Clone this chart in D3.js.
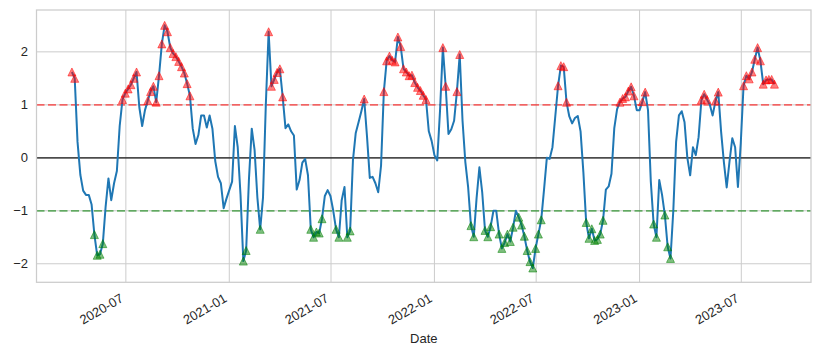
<!DOCTYPE html>
<html><head><meta charset="utf-8">
<script src="https://cdn.jsdelivr.net/npm/d3@7"></script>
<style>
body{margin:0;background:#fff}
svg{display:block}
text{font-family:"Liberation Sans",Arial,"DejaVu Sans",sans-serif;fill:#262626}
</style>
</head><body>
<svg id="chart" width="820" height="355"></svg>
<script>
// ---- data ----
const startDate = "2020-03-27";
const stepDays = 5;
const values = [
 1.62, 1.5, 0.3, -0.32, -0.62, -0.70, -0.70, -0.88, -1.45, -1.84,
 -1.82, -1.62, -0.92, -0.39, -0.80, -0.48, -0.25, 0.6, 1.1, 1.22,
 1.30, 1.38, 1.5, 1.62, 0.95, 0.6, 0.9, 1.08, 1.25, 1.35,
 1.05, 1.55, 2.15, 2.5, 2.38, 2.08, 1.97, 1.91, 1.82, 1.72,
 1.6, 1.4, 1.17, 0.55, 0.26, 0.43, 0.8, 0.8, 0.57, 0.8,
 0.55, -0.06, -0.36, -0.48, -0.95, -0.77, -0.61, -0.45, 0.6, 0.2,
 -0.7, -1.95, -1.75, -0.4, 0.55, 0.15, -0.75, -1.35, -0.75, 1.0,
 2.38, 1.35, 1.48, 1.61, 1.68, 1.15, 0.56, 0.63, 0.5, 0.42,
 -0.6, -0.42, -0.09, -0.02, -0.33, -1.35, -1.5, -1.4, -1.42, -1.15,
 -0.72, -0.61, -0.72, -1.0, -1.35, -1.5, -0.8, -0.55, -1.5, -1.38,
 -0.05, 0.47, 0.67, 0.88, 1.11, 0.41, -0.38, -0.36, -0.48, -0.65,
 -0.15, 1.25, 1.83, 1.92, 1.84, 1.81, 2.28, 2.1, 1.68, 1.62,
 1.55, 1.56, 1.42, 1.33, 1.27, 1.18, 1.1, 0.5, 0.32, 0.05,
 -0.05, 0.9, 2.08, 1.35, 0.45, 0.54, 0.7, 1.25, 1.95, 0.7,
 -0.08, -0.56, -1.28, -1.49, -0.76, -0.18, -0.65, -1.37, -1.49, -1.3,
 -1.0, -1.0, -1.44, -1.71, -1.6, -1.44, -1.58, -1.31, -1.0, -1.12,
 -1.27, -1.48, -1.75, -1.96, -2.08, -1.71, -1.44, -1.17, -0.6, 0.0,
 -0.02, 0.2, 0.78, 1.36, 1.74, 1.72, 1.05, 0.78, 0.65, 0.75,
 0.79, 0.5, -0.27, -1.22, -1.52, -1.34, -1.56, -1.54, -1.44, -1.18,
 -0.6, -0.54, -0.3, 0.56, 0.92, 1.05, 1.12, 1.15, 1.26, 1.34,
 1.17, 0.9, 0.9, 1.06, 1.24, 0.9, -0.45, -1.25, -1.5, -0.42,
 -0.7, -1.08, -1.68, -1.9, -1.0, 0.3, 0.8, 0.88, 0.67, 0.0,
 -0.33, 0.2, 0.05, 0.39, 1.09, 1.2, 1.1, 1.0, 0.8, 1.07,
 1.24, 0.5, -0.08, -0.56, -0.07, 0.37, 0.2, -0.55, 0.27, 1.36,
 1.55, 1.49, 1.62, 1.86, 2.08, 1.83, 1.39, 1.47, 1.48, 1.48,
 1.39
];
const xTickLabels = ["2020-07","2021-01","2021-07","2022-01","2022-07","2023-01","2023-07"];
const yTickValues = [-2, -1, 0, 1, 2];
const upperThreshold = 1;
const lowerThreshold = -1;
const xAxisLabel = "Date";
const xDomain = ["2020-01-24", "2023-11-02"];
const yDomain = [-2.35, 2.79];

// ---- build ----
const parse = d3.utcParse("%Y-%m-%d");
const t0 = parse(startDate);
const data = values.map((v, i) => ({date: d3.utcDay.offset(t0, i * stepDays), value: v}));

const L = 36.5, R = 811, T = 10, B = 282.3;
const x = d3.scaleUtc().domain(xDomain.map(parse)).range([L, R]);
const y = d3.scaleLinear().domain(yDomain).range([B, T]);
const svg = d3.select("#chart");

// grid
const xTicks = xTickLabels.map(s => d3.utcParse("%Y-%m")(s));
svg.append("g").selectAll("line").data(xTicks).join("line")
  .attr("x1", d => x(d)).attr("x2", d => x(d)).attr("y1", T).attr("y2", B)
  .attr("stroke", "#cccccc").attr("stroke-width", 1);
svg.append("g").selectAll("line").data(yTickValues).join("line")
  .attr("x1", L).attr("x2", R).attr("y1", d => y(d)).attr("y2", d => y(d))
  .attr("stroke", "#cccccc").attr("stroke-width", 1);

// reference lines
svg.append("line").attr("x1", L).attr("x2", R).attr("y1", y(0)).attr("y2", y(0))
  .attr("stroke", "#000").attr("stroke-opacity", 0.65).attr("stroke-width", 1.8);
svg.append("line").attr("x1", L).attr("x2", R).attr("y1", y(upperThreshold)).attr("y2", y(upperThreshold))
  .attr("stroke", "red").attr("stroke-opacity", 0.55).attr("stroke-width", 1.8).attr("stroke-dasharray", "8,3.5");
svg.append("line").attr("x1", L).attr("x2", R).attr("y1", y(lowerThreshold)).attr("y2", y(lowerThreshold))
  .attr("stroke", "green").attr("stroke-opacity", 0.55).attr("stroke-width", 1.8).attr("stroke-dasharray", "8,3.5");

// series line
svg.append("path").datum(data)
  .attr("fill", "none").attr("stroke", "#1f77b4").attr("stroke-width", 2)
  .attr("stroke-linejoin", "round")
  .attr("d", d3.line().x(d => x(d.date)).y(d => y(d.value)));

// markers
const tri = "M0,-4L4,4L-4,4Z";
svg.append("g").selectAll("path").data(data.filter(d => d.value > upperThreshold)).join("path")
  .attr("d", tri).attr("transform", d => `translate(${x(d.date)},${y(d.value)})`)
  .attr("fill", "red").attr("fill-opacity", 0.5)
  .attr("stroke", "red").attr("stroke-opacity", 0.5).attr("stroke-width", 1);
svg.append("g").selectAll("path").data(data.filter(d => d.value < lowerThreshold)).join("path")
  .attr("d", tri).attr("transform", d => `translate(${x(d.date)},${y(d.value)})`)
  .attr("fill", "green").attr("fill-opacity", 0.5)
  .attr("stroke", "green").attr("stroke-opacity", 0.5).attr("stroke-width", 1);

// spines
svg.append("rect").attr("x", L).attr("y", T).attr("width", R - L).attr("height", B - T)
  .attr("fill", "none").attr("stroke", "#cccccc").attr("stroke-width", 1.25);

// tick labels
svg.append("g").selectAll("text").data(yTickValues).join("text")
  .attr("x", 28).attr("y", d => y(d)).attr("dy", "0.35em")
  .attr("text-anchor", "end").attr("font-size", 13)
  .text(d => d3.format("")(d).replace("-", "\u2212"));
svg.append("g").selectAll("text").data(xTicks).join("text")
  .attr("text-anchor", "end").attr("font-size", 13)
  .attr("transform", d => `translate(${x(d) - 1.5},301) rotate(-30)`)
  .text((d, i) => xTickLabels[i]);

svg.append("text").attr("x", (L + R) / 2).attr("y", 343)
  .attr("text-anchor", "middle").attr("font-size", 13).text(xAxisLabel);
</script>
</body></html>
